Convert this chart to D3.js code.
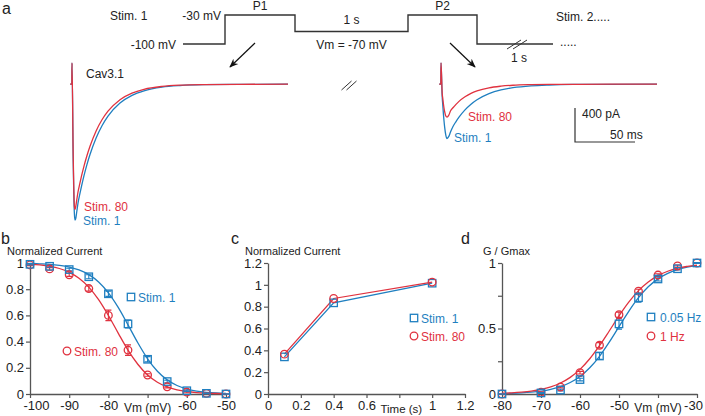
<!DOCTYPE html>
<html><head><meta charset="utf-8">
<script src="https://cdn.jsdelivr.net/npm/d3@7"></script>
<style>
body{margin:0;background:#fff;}
svg{font-family:"Liberation Sans",Arial,Helvetica,sans-serif;}
</style></head><body>
<svg id="c" width="705" height="416"></svg>
<script>
// ---------------- DATA ----------------
// Panel a: current traces (time ms, current pA)
const traceTime   = [-1.5,-0.15,0,1,1.5,2,2.5,3,4,5,6.5,8,10,12.5,15,20,25,30,40,50,60,75,90,110,140,180];
const p1Stim1     = [0,0,250,-900,-1300,-1530,-1600,-1590,-1500,-1400,-1296,-1198,-1078,-945,-829,-637,-490,-376,-222,-131,-78,-35,-16,-6,-2,0];
const p1Stim80    = [0,0,250,-850,-1230,-1440,-1475,-1450,-1360,-1270,-1172,-1078,-965,-840,-731,-553,-419,-318,-182,-105,-60,-26,-11,-4,-1,0];
const p2Stim1     = [0,0,250,-150,-250,-350,-430,-500,-600,-640,-615,-560,-498,-440,-388,-302,-235,-183,-111,-67,-41,-19,-9,-3,-1,0];
const p2Stim80    = [0,0,250,-110,-170,-230,-280,-320,-375,-388,-365,-313,-277,-237,-202,-148,-108,-79,-42,-23,-12,-5,-2,-1,0,0];
// Panel a: voltage protocol (schematic time units, mV)
const protoEdges  = [0,42,112,225,294,370];
const protoLevels = [-100,-30,-70,-30,-100];

// Panel b: steady-state inactivation
const vmB         = [-100,-95,-90,-85,-80,-75,-70,-65,-60,-55,-50];
const bStim1      = [0.99,0.975,0.95,0.895,0.765,0.535,0.265,0.095,0.025,0.005,0.0];
const bStim1Err   = [0.005,0.008,0.01,0.015,0.02,0.03,0.02,0.01,0.005,0.003,0.002];
const bStim80     = [0.985,0.955,0.91,0.805,0.6,0.335,0.145,0.055,0.015,0.005,0.0];
const bStim80Err  = [0.005,0.01,0.012,0.02,0.04,0.04,0.01,0.008,0.005,0.003,0.002];
const fitVmB      = [-100,-97.5,-95,-92.5,-90,-87.5,-85,-82.5,-80,-77.5,-75,-72.5,-70,-67.5,-65,-62.5,-60,-57.5,-55,-52.5,-50];
const bFit1       = [0.997,0.994,0.990,0.982,0.969,0.947,0.911,0.855,0.772,0.661,0.528,0.391,0.269,0.174,0.108,0.065,0.038,0.022,0.013,0.0075,0.0043];
const bFit80      = [0.991,0.985,0.975,0.958,0.929,0.884,0.816,0.720,0.599,0.465,0.335,0.227,0.145,0.090,0.054,0.032,0.019,0.011,0.0065,0.0038,0.0022];
const bXTicks     = [-100,-90,-80,-70,-60,-50];
const bYTicks     = [0,0.2,0.4,0.6,0.8,1];

// Panel c: recovery
const timeC       = [0.1,0.4,1.0];
const cStim1      = [0.34,0.835,1.015];
const cStim80     = [0.365,0.875,1.025];
const cXTicks     = [0,0.2,0.4,0.6,0.8,1,1.2];
const cYTicks     = [0,0.2,0.4,0.6,0.8,1,1.2];

// Panel d: activation
const vmD         = [-80,-70,-65,-60,-55,-50,-45,-40,-35,-30];
const d005Hz      = [0.0,0.008,0.03,0.11,0.29,0.535,0.735,0.878,0.956,1.0];
const d005HzErr   = [0.002,0.004,0.006,0.01,0.025,0.04,0.035,0.015,0.01,0.003];
const d1Hz        = [0.0,0.013,0.053,0.163,0.372,0.605,0.785,0.908,0.977,1.0];
const d1HzErr     = [0.002,0.004,0.006,0.01,0.02,0.02,0.015,0.01,0.008,0.003];
const fitVmD      = [-80,-77.5,-75,-72.5,-70,-67.5,-65,-62.5,-60,-57.5,-55,-52.5,-50,-47.5,-45,-42.5,-40,-37.5,-35,-32.5,-30];
const dFit005     = [0.0033,0.0053,0.0086,0.0138,0.0221,0.0354,0.056,0.0877,0.134,0.200,0.288,0.396,0.514,0.631,0.735,0.818,0.879,0.921,0.950,0.968,0.980];
const dFit1       = [0.0057,0.009,0.0143,0.0223,0.0352,0.0547,0.084,0.127,0.188,0.269,0.369,0.481,0.596,0.701,0.789,0.855,0.904,0.937,0.960,0.974,0.984];
const dXTicks     = [-80,-70,-60,-50,-40,-30];
const dYTicks     = [0,0.25,0.5,0.75,1];

// ---------------- STYLE ----------------
const BLUE = "#1f7fc0", RED = "#e0323f", AX = "#555", TXT = "#222";
const svg = d3.select("#c");

// ---------------- PANEL A ----------------
svg.append("text").attr("x",2).attr("y",14).attr("font-size",16).attr("fill",TXT).text("a");

const px = d3.scaleLinear().domain([0,370]).range([183,553]);
const pv = d3.scaleLinear().domain([-100,-30]).range([44,15]);
const protoPts = [];
protoLevels.forEach((v,i)=>{ protoPts.push([protoEdges[i],v]); protoPts.push([protoEdges[i+1],v]); });
svg.append("path").attr("d", d3.line().x(d=>px(d[0])).y(d=>pv(d[1]))(protoPts))
   .attr("fill","none").attr("stroke","#333").attr("stroke-width",1.4);

const tA = (x,y,s,opts={})=>{
  const t = svg.append("text").attr("x",x).attr("y",y).attr("font-size",opts.size||12)
    .attr("fill",opts.fill||TXT).attr("text-anchor",opts.anchor||"start").text(s);
  return t;
};
tA(110,20,"Stim. 1");
tA(221,20,"-30 mV",{anchor:"end"});
tA(176,49,"-100 mV",{anchor:"end"});
tA(px(77),10,"P1",{anchor:"middle"});
tA(px(168.5),24,"1 s",{anchor:"middle"});
tA(px(168.5),49,"Vm = -70 mV",{anchor:"middle"});
tA(px(259.5),10,"P2",{anchor:"middle"});
tA(556,21,"Stim. 2.....");
tA(560,46,".....");
tA(519,62,"1 s",{anchor:"middle"});
// break marks on protocol
[[-3],[3]].forEach(o=>{
  svg.append("line").attr("x1",510+o[0]).attr("y1",49).attr("x2",524+o[0]).attr("y2",40)
     .attr("stroke","#333").attr("stroke-width",1);
});
// break between traces
[[-2.5],[2.5]].forEach(o=>{
  svg.append("line").attr("x1",344+o[0]).attr("y1",90).attr("x2",354+o[0]).attr("y2",81)
     .attr("stroke","#333").attr("stroke-width",1);
});
// arrows
const defs = svg.append("defs");
defs.append("marker").attr("id","ah").attr("viewBox","0 0 10 10").attr("refX",9).attr("refY",5)
  .attr("markerWidth",9).attr("markerHeight",9).attr("orient","auto").attr("markerUnits","userSpaceOnUse")
  .append("path").attr("d","M0,1 L10,5 L0,9 L3,5 Z").attr("fill","#111");
[[255,43,230,67],[450,43,475,67]].forEach(a=>{
  svg.append("line").attr("x1",a[0]).attr("y1",a[1]).attr("x2",a[2]).attr("y2",a[3])
     .attr("stroke","#111").attr("stroke-width",1.2).attr("marker-end","url(#ah)");
});

const ty = d3.scaleLinear().domain([-1600,250]).range([220,63]);
const tx1 = d3.scaleLinear().domain([0,180]).range([72,288]);
const tx2 = d3.scaleLinear().domain([0,180]).range([441,657]);
function trace(xs, vals, col){
  const line = d3.line().x((d,i)=>xs(traceTime[i])).y(d=>ty(d)).curve(d3.curveMonotoneX);
  svg.append("path").attr("d",line(vals)).attr("fill","none").attr("stroke",col).attr("stroke-width",1.3);
}
trace(tx1,p1Stim1,BLUE); trace(tx1,p1Stim80,RED);
trace(tx2,p2Stim1,BLUE); trace(tx2,p2Stim80,RED);
tA(86,78,"Cav3.1");
tA(84,211,"Stim. 80",{fill:RED});
tA(83,225,"Stim. 1",{fill:BLUE});
tA(468,121,"Stim. 80",{fill:RED});
tA(454,142,"Stim. 1",{fill:BLUE});
// scale bar
const sbx = 575, sby = 142;
const barH = ty(0)-ty(400), barW = tx2(50)-tx2(0);
svg.append("path").attr("d",`M${sbx},${sby-barH}V${sby}H${sbx+barW}`)
   .attr("fill","none").attr("stroke","#333").attr("stroke-width",1.2);
tA(582,118,"400 pA");
tA(610,139,"50 ms");

// ---------------- helpers for panels b-d ----------------
function panel(cfg){
  const g = svg.append("g");
  const x = d3.scaleLinear().domain(cfg.xd).range(cfg.xr);
  const y = d3.scaleLinear().domain(cfg.yd).range([394,263]);
  const xa = g.append("g").attr("transform","translate(0,394)")
    .call(d3.axisBottom(x).tickValues(cfg.xt).tickSize(4).tickPadding(3)
      .tickFormat(cfg.xf).tickSizeOuter(0));
  const ya = g.append("g").attr("transform",`translate(${cfg.xr[0]},0)`)
    .call(d3.axisLeft(y).tickValues(cfg.yt).tickSize(4).tickPadding(2)
      .tickFormat(cfg.yf).tickSizeOuter(0));
  [xa,ya].forEach(a=>{
    a.select(".domain").attr("stroke",AX).attr("stroke-width",1.3);
    a.selectAll(".tick line").attr("stroke",AX).attr("stroke-width",1.2);
    a.selectAll(".tick text").attr("font-size",13).attr("fill",TXT).attr("font-family","Liberation Sans, Arial, sans-serif");
  });
  return {g,x,y,xa,ya};
}
function square(g,x,y,col){
  g.append("rect").attr("x",x-3.7).attr("y",y-3.7).attr("width",7.4).attr("height",7.4)
   .attr("fill","none").attr("stroke",col).attr("stroke-width",1.3);
}
function circle(g,x,y,col){
  g.append("circle").attr("cx",x).attr("cy",y).attr("r",3.8)
   .attr("fill","none").attr("stroke",col).attr("stroke-width",1.3);
}
function errs(p,xs,ys,es,col){
  xs.forEach((xv,i)=>{
    const cx=p.x(xv), y1=p.y(ys[i]-es[i]), y2=p.y(ys[i]+es[i]);
    p.g.append("path").attr("d",`M${cx},${y1}V${y2}M${cx-3},${y1}H${cx+3}M${cx-3},${y2}H${cx+3}`)
      .attr("stroke",col).attr("stroke-width",1.1).attr("fill","none");
  });
}
const num = d=>String(d);

// ---------------- PANEL B ----------------
svg.append("text").attr("x",1).attr("y",244).attr("font-size",16).attr("fill",TXT).text("b");
tA(7,255,"Normalized Current",{size:11});
const pb = panel({xd:[-100,-50],xr:[30,226],yd:[0,1],xt:bXTicks,yt:bYTicks,
  xf:d=>d===-70?"":num(d), yf:num});
pb.xa.selectAll(".tick text").filter(d=>d===-100).attr("dx",6);
const lnB = (xs,ys)=>d3.line().x((d,i)=>pb.x(xs[i])).y(d=>pb.y(d)).curve(d3.curveMonotoneX)(ys);
pb.g.append("path").attr("d",lnB(fitVmB,bFit1)).attr("fill","none").attr("stroke",BLUE).attr("stroke-width",1.3);
pb.g.append("path").attr("d",lnB(fitVmB,bFit80)).attr("fill","none").attr("stroke",RED).attr("stroke-width",1.3);
errs(pb,vmB,bStim80,bStim80Err,RED);
errs(pb,vmB,bStim1,bStim1Err,BLUE);
vmB.forEach((v,i)=>circle(pb.g,pb.x(v),pb.y(bStim80[i]),RED));
vmB.forEach((v,i)=>square(pb.g,pb.x(v),pb.y(bStim1[i]),BLUE));
tA(pb.x(-70),412,"Vm (mV)",{anchor:"middle",size:12});
square(svg,131,297,BLUE); tA(138,302,"Stim. 1",{fill:BLUE});
circle(svg,67,351,RED); tA(74,356,"Stim. 80",{fill:RED});

// ---------------- PANEL C ----------------
svg.append("text").attr("x",231).attr("y",244).attr("font-size",16).attr("fill",TXT).text("c");
tA(245,255,"Normalized Current",{size:11});
const pc = panel({xd:[0,1.2],xr:[268,465],yd:[0,1.2],xt:cXTicks,yt:cYTicks,
  xf:d=>Math.abs(d-0.8)<1e-9?"":num(+d.toFixed(1)), yf:d=>num(+d.toFixed(1))});
const lnC = ys=>d3.line().x((d,i)=>pc.x(timeC[i])).y(d=>pc.y(d))(ys);
pc.g.append("path").attr("d",lnC(cStim1)).attr("fill","none").attr("stroke",BLUE).attr("stroke-width",1.3);
pc.g.append("path").attr("d",lnC(cStim80)).attr("fill","none").attr("stroke",RED).attr("stroke-width",1.3);
timeC.forEach((t,i)=>square(pc.g,pc.x(t),pc.y(cStim1[i]),BLUE));
timeC.forEach((t,i)=>circle(pc.g,pc.x(t),pc.y(cStim80[i]),RED));
tA(pc.x(0.8)+2,413,"Time (s)",{anchor:"middle",size:11.5});
square(svg,414,318,BLUE); tA(421,323,"Stim. 1",{fill:BLUE});
circle(svg,414,336,RED); tA(421,341,"Stim. 80",{fill:RED});

// ---------------- PANEL D ----------------
svg.append("text").attr("x",461).attr("y",244).attr("font-size",16).attr("fill",TXT).text("d");
tA(483,255,"G / Gmax",{size:11});
const pd = panel({xd:[-80,-30],xr:[502,697],yd:[0,1],xt:dXTicks,yt:dYTicks,
  xf:d=>d===-40?"":num(d), yf:d=>(d===0||d===0.5||d===1)?num(d):""});
pd.xa.selectAll(".tick text").filter(d=>d===-30).attr("dx",-4);
const lnD = (xs,ys)=>d3.line().x((d,i)=>pd.x(xs[i])).y(d=>pd.y(d)).curve(d3.curveMonotoneX)(ys);
pd.g.append("path").attr("d",lnD(fitVmD,dFit005)).attr("fill","none").attr("stroke",BLUE).attr("stroke-width",1.3);
pd.g.append("path").attr("d",lnD(fitVmD,dFit1)).attr("fill","none").attr("stroke",RED).attr("stroke-width",1.3);
errs(pd,vmD,d1Hz,d1HzErr,RED);
errs(pd,vmD,d005Hz,d005HzErr,BLUE);
vmD.forEach((v,i)=>circle(pd.g,pd.x(v),pd.y(d1Hz[i]),RED));
vmD.forEach((v,i)=>square(pd.g,pd.x(v),pd.y(d005Hz[i]),BLUE));
tA(pd.x(-40),412,"Vm (mV)",{anchor:"middle",size:12});
square(svg,651,317,BLUE); tA(660,322,"0.05 Hz",{fill:BLUE});
circle(svg,651,336,RED); tA(660,341,"1 Hz",{fill:RED});
</script>
</body></html>
